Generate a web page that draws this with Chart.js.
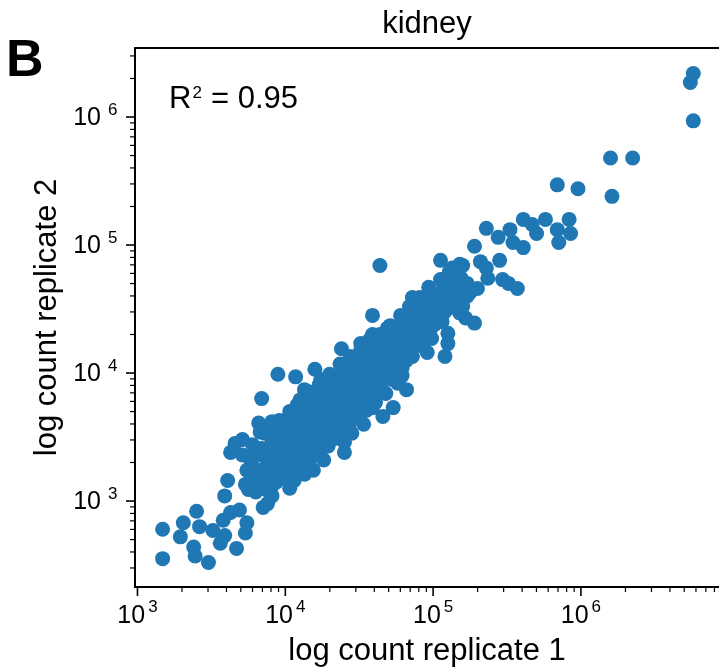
<!DOCTYPE html>
<html>
<head>
<meta charset="utf-8">
<script src="https://cdn.jsdelivr.net/npm/chart.js@4.4.1/dist/chart.umd.min.js"></script>
<style>
  html, body { margin: 0; padding: 0; background: #fff; }
  #wrap { width: 719px; height: 669px; position: relative; }
</style>
</head>
<body>
<div id="wrap"><canvas id="scatterChart"></canvas></div>
<script>
// log10 counts (replicate 1 on x, replicate 2 on y)
const rep1Log = [
  6.76, 6.74, 6.76, 6.20, 6.35, 5.84, 5.98, 6.21, 5.76, 5.92,
  5.36, 5.44, 5.52, 5.61, 5.67, 5.70, 5.84, 5.93, 5.54, 5.61,
  5.85, 5.28, 5.32, 5.45, 5.36, 5.37, 5.47, 5.51, 5.57, 5.23,
  5.25, 5.20, 5.05, 5.13, 4.64, 4.97, 4.86, 4.91, 4.86, 5.05,
  5.18, 5.28, 4.98, 4.84, 4.69, 4.78, 5.10, 5.10, 4.96, 5.08,
  4.82, 4.66, 4.73, 4.59, 4.59, 4.51, 4.38, 4.76, 4.73, 4.59,
  4.66, 4.45, 4.40, 4.20, 3.95, 4.07, 4.24, 4.13, 3.84, 4.08,
  4.03, 3.91, 3.82, 3.86, 3.71, 3.66, 3.63, 3.77, 3.61, 3.59,
  4.03, 4.06, 4.19, 3.85, 3.88, 3.63, 3.69, 3.74, 3.58, 3.17,
  3.17, 3.29, 3.31, 3.40, 3.42, 3.38, 3.39, 3.48, 3.51, 3.56,
  3.67, 3.73, 3.59, 5.05, 5.30, 4.83, 4.64,
  // dense middle of the cloud
  3.71, 3.74, 3.73,
  3.78, 3.81, 3.80,
  3.84, 3.88, 3.86, 3.87,
  3.92, 3.94, 3.92, 3.94, 3.91,
  3.98, 4.01, 4.00, 3.98,
  4.05, 4.08, 4.07, 4.05,
  4.12, 4.15, 4.13, 4.11, 4.14, 4.13,
  4.19, 4.21, 4.20, 4.18, 4.21,
  4.26, 4.28, 4.27, 4.25, 4.28, 4.26,
  4.32, 4.35, 4.34, 4.32, 4.34,
  4.39, 4.42, 4.40, 4.38, 4.41, 4.40,
  4.46, 4.49, 4.47, 4.45, 4.48,
  4.53, 4.55, 4.54, 4.52, 4.55, 4.53,
  4.59, 4.62, 4.61, 4.59, 4.61,
  4.66, 4.69, 4.68, 4.65, 4.68,
  4.73, 4.76, 4.74, 4.72,
  4.80, 4.82, 4.81, 4.79, 4.82,
  4.86, 4.89, 4.88, 4.86,
  4.93, 4.96, 4.95, 4.93,
  5.00, 5.03, 5.01, 4.99,
  5.07, 5.09, 5.08, 5.06,
  5.13, 5.16, 5.15,
  5.20, 5.23, 5.22,
  3.76, 3.77, 3.75,
  3.83, 3.84, 3.82, 3.83,
  3.90, 3.91, 3.89, 3.90, 3.91,
  3.96, 3.97, 3.95, 3.96, 3.97,
  4.03, 4.04, 4.02, 4.03, 4.04,
  4.10, 4.11, 4.09, 4.10, 4.11, 4.09,
  4.17, 4.18, 4.16, 4.17, 4.18, 4.16,
  4.23, 4.24, 4.22, 4.23, 4.24, 4.22,
  4.30, 4.31, 4.29, 4.30, 4.31, 4.29,
  4.37, 4.38, 4.36, 4.37, 4.38, 4.36,
  4.44, 4.45, 4.43, 4.44, 4.45, 4.43,
  4.51, 4.52, 4.50, 4.51, 4.52,
  4.57, 4.58, 4.56, 4.57, 4.58,
  4.64, 4.65, 4.63, 4.64, 4.65,
  4.71, 4.72, 4.70, 4.71, 4.72,
  4.78, 4.79, 4.77, 4.78, 4.79,
  4.84, 4.85, 4.83, 4.84,
  4.91, 4.92, 4.90, 4.91,
  4.98, 4.99, 4.97, 4.98,
  5.05, 5.06, 5.04, 5.05,
  5.11, 5.12, 5.10, 5.11,
  5.18, 5.19, 5.17
];
const rep2Log = [
  6.34, 6.27, 5.97, 5.68, 5.68, 5.47, 5.44, 5.38, 5.20, 5.20,
  5.13, 5.06, 5.12, 5.20, 5.16, 5.09, 5.12, 5.09, 5.02, 4.98,
  5.02, 4.99, 4.87, 4.88, 4.82, 4.74, 4.73, 4.70, 4.66, 4.70,
  4.63, 4.52, 4.88, 4.82, 4.84, 4.67, 4.59, 4.59, 4.49, 4.52,
  4.47, 4.39, 4.41, 4.36, 4.35, 4.31, 4.31, 4.23, 4.16, 4.13,
  4.10, 4.20, 4.02, 4.45, 4.30, 4.23, 4.19, 3.92, 3.73, 3.73,
  3.66, 3.53, 3.38, 4.03, 3.99, 3.97, 3.95, 3.87, 3.80, 3.75,
  3.67, 3.62, 3.61, 3.53, 3.48, 3.45, 3.38, 3.30, 3.16, 3.04,
  3.10, 3.16, 3.24, 2.95, 2.98, 2.91, 2.93, 2.83, 2.85, 2.78,
  2.55, 2.72, 2.83, 2.92, 2.80, 2.64, 2.57, 2.52, 2.77, 2.67,
  2.63, 2.75, 2.73, 4.59, 4.66, 4.28, 4.18,
  // dense middle of the cloud
  3.36, 3.24, 3.13,
  3.44, 3.18, 3.07,
  3.41, 3.30, 3.20, 3.09,
  3.52, 3.38, 3.26, 3.15, 3.04,
  3.57, 3.46, 3.34, 3.23,
  3.63, 3.51, 3.40, 3.28,
  3.75, 3.65, 3.54, 3.42, 3.32, 3.21,
  3.80, 3.70, 3.59, 3.48, 3.36,
  3.87, 3.76, 3.65, 3.54, 3.43, 3.32,
  3.93, 3.82, 3.71, 3.60, 3.49,
  4.01, 3.90, 3.79, 3.68, 3.57, 3.46,
  4.09, 3.98, 3.87, 3.76, 3.65,
  4.14, 4.04, 3.93, 3.82, 3.71, 3.60,
  4.21, 4.10, 3.99, 3.88, 3.77,
  4.27, 4.16, 4.05, 3.95, 3.84,
  4.34, 4.23, 4.12, 4.01,
  4.41, 4.30, 4.20, 3.98, 3.87,
  4.45, 4.35, 4.24, 4.13,
  4.53, 4.43, 4.32, 4.21,
  4.60, 4.49, 4.38, 4.27,
  4.69, 4.59, 4.48, 4.40,
  4.76, 4.65, 4.57,
  4.84, 4.60, 4.43,
  3.34, 3.21, 3.09,
  3.54, 3.36, 3.24, 3.13,
  3.57, 3.46, 3.35, 3.24, 3.12,
  3.63, 3.52, 3.40, 3.28, 3.18,
  3.70, 3.57, 3.45, 3.34, 3.23,
  3.79, 3.68, 3.57, 3.46, 3.35, 3.26,
  3.85, 3.74, 3.63, 3.51, 3.40, 3.29,
  3.91, 3.80, 3.70, 3.59, 3.48, 3.38,
  3.99, 3.88, 3.77, 3.66, 3.55, 3.43,
  4.07, 3.96, 3.85, 3.74, 3.63, 3.52,
  4.13, 4.02, 3.91, 3.80, 3.70, 3.59,
  4.18, 4.07, 3.96, 3.85, 3.74,
  4.26, 4.15, 4.04, 3.93, 3.82,
  4.30, 4.20, 4.09, 3.98, 3.87,
  4.37, 4.26, 4.15, 4.05, 3.95,
  4.45, 4.35, 4.24, 4.13, 4.04,
  4.52, 4.41, 4.30, 4.20,
  4.57, 4.48, 4.37, 4.26,
  4.63, 4.54, 4.45, 4.34,
  4.73, 4.63, 4.54, 4.43,
  4.79, 4.70, 4.60, 4.51,
  4.85, 4.74, 4.63
];

const xTickExps = [3, 4, 5, 6];
const yTickExps = [3, 4, 5, 6];
const xRange = [962, 8.59e6];
const yRange = [213, 3.46e6];

const titleText = "kidney";
const xLabel = "log count replicate 1";
const yLabel = "log count replicate 2";
const panelLetter = "B";
const r2Text = "0.95";

const FONT = "'Liberation Sans', Arial, Helvetica, sans-serif";
const BLUE = "#1f77b4";

const points = rep1Log.map((v, i) => ({ x: Math.pow(10, v), y: Math.pow(10, rep2Log[i]) }));

// 2..9 x 10^k positions inside a range, for the minor tick marks
function minorTicks(lo, hi) {
    const out = [];
    for (let k = Math.floor(Math.log10(lo)); k <= Math.ceil(Math.log10(hi)); k++) {
        for (let d = 2; d <= 9; d++) {
            const v = d * Math.pow(10, k);
            if (v >= lo && v <= hi) out.push(v);
        }
    }
    return out;
}

const decorations = {
    id: 'decorations',
    afterDraw(chart) {
        const { ctx, chartArea: a, scales: { x, y } } = chart;
        ctx.save();
        ctx.strokeStyle = '#000';
        ctx.fillStyle = '#000';

        // top spine
        ctx.lineWidth = 2;
        ctx.beginPath();
        ctx.moveTo(a.left - 1, a.top);
        ctx.lineTo(a.right, a.top);
        ctx.stroke();

        // tick marks
        const tick = (x1, y1, x2, y2, w) => {
            ctx.lineWidth = w;
            ctx.beginPath();
            ctx.moveTo(x1, y1);
            ctx.lineTo(x2, y2);
            ctx.stroke();
        };
        yTickExps.forEach(e => {
            const py = y.getPixelForValue(Math.pow(10, e));
            tick(a.left - 9, py, a.left, py, 1.6);
        });
        minorTicks(yRange[0], yRange[1]).forEach(v => {
            const py = y.getPixelForValue(v);
            tick(a.left - 5, py, a.left, py, 1.2);
        });
        xTickExps.forEach(e => {
            const px = x.getPixelForValue(Math.pow(10, e));
            tick(px, a.bottom, px, a.bottom + 9, 1.6);
        });
        minorTicks(xRange[0], xRange[1]).forEach(v => {
            const px = x.getPixelForValue(v);
            tick(px, a.bottom, px, a.bottom + 5, 1.2);
        });

        // tick labels 10^n
        ctx.textBaseline = 'alphabetic';
        yTickExps.forEach(e => {
            const py = y.getPixelForValue(Math.pow(10, e));
            ctx.font = `25px ${FONT}`;
            ctx.textAlign = 'right';
            ctx.fillText('10', a.left - 34, py + 8);
            ctx.font = `17px ${FONT}`;
            ctx.textAlign = 'left';
            ctx.fillText(String(e), a.left - 27, py - 2);
        });
        xTickExps.forEach(e => {
            const px = x.getPixelForValue(Math.pow(10, e));
            ctx.font = `25px ${FONT}`;
            const w1 = ctx.measureText('10').width;
            ctx.font = `17px ${FONT}`;
            const w2 = ctx.measureText(String(e)).width;
            const start = px - (w1 + 3 + w2) / 2;
            ctx.textAlign = 'left';
            ctx.font = `25px ${FONT}`;
            ctx.fillText('10', start, a.bottom + 36);
            ctx.font = `17px ${FONT}`;
            ctx.fillText(String(e), start + w1 + 3, a.bottom + 25);
        });

        // title and axis labels
        const cx = (a.left + a.right) / 2;
        ctx.font = `31px ${FONT}`;
        ctx.textAlign = 'center';
        ctx.fillText(titleText, cx, 33);
        ctx.fillText(xLabel, cx, 660);
        ctx.save();
        ctx.translate(56, (a.top + a.bottom) / 2);
        ctx.rotate(-Math.PI / 2);
        ctx.fillText(yLabel, 0, 0);
        ctx.restore();

        // panel letter
        ctx.font = `bold 52px ${FONT}`;
        ctx.textAlign = 'left';
        ctx.fillText(panelLetter, 6, 76);

        // R^2 annotation
        ctx.font = `31px ${FONT}`;
        ctx.fillText('R', 169, 108);
        const rw = ctx.measureText('R').width;
        ctx.font = `17px ${FONT}`;
        ctx.fillText('2', 169 + rw + 1, 98);
        ctx.font = `31px ${FONT}`;
        ctx.fillText('= ' + r2Text, 211, 108);

        ctx.restore();
    }
};

new Chart(document.getElementById('scatterChart'), {
    type: 'scatter',
    data: {
        datasets: [{
            data: points,
            backgroundColor: BLUE,
            borderColor: BLUE,
            borderWidth: 0,
            pointRadius: 7.5,
            pointHoverRadius: 7.5
        }]
    },
    options: {
        responsive: true,
        maintainAspectRatio: false,
        animation: false,
        events: [],
        layout: { autoPadding: false, padding: { left: 135, top: 48, right: 0, bottom: 82 } },
        plugins: { legend: { display: false }, tooltip: { enabled: false } },
        scales: {
            x: {
                type: 'logarithmic',
                min: xRange[0],
                max: xRange[1],
                grid: { display: false, drawTicks: false },
                border: { display: true, color: '#000', width: 2 },
                ticks: { display: false }
            },
            y: {
                type: 'logarithmic',
                min: yRange[0],
                max: yRange[1],
                grid: { display: false, drawTicks: false },
                border: { display: true, color: '#000', width: 2 },
                ticks: { display: false }
            }
        }
    },
    plugins: [decorations]
});
</script>
</body>
</html>
